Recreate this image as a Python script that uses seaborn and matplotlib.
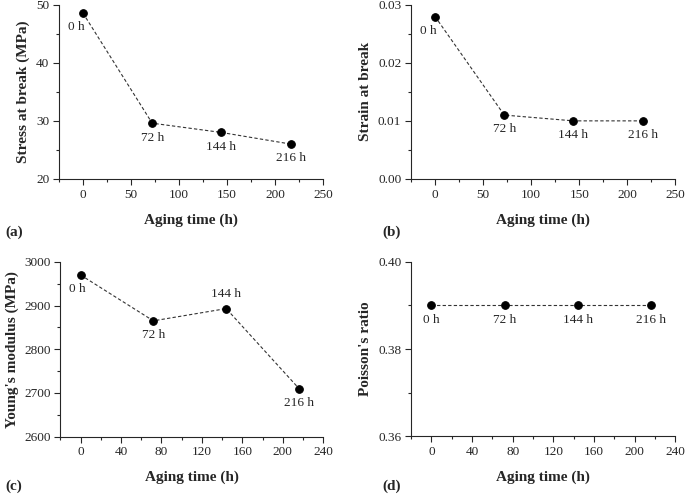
import numpy as np
import pandas as pd
import matplotlib
matplotlib.use('Agg')
import matplotlib.pyplot as plt
from matplotlib.ticker import AutoMinorLocator, MultipleLocator
import seaborn as sns

# values
aging_time = [0, 72, 144, 216]
time_labels = ['0 h', '72 h', '144 h', '216 h']
stress = [48.6, 29.6, 28.0, 26.0]
strain = [0.028, 0.011, 0.010, 0.010]
modulus = [2970, 2865, 2893, 2710]
poisson = [0.39, 0.39, 0.39, 0.39]

sns.set_style('ticks')
plt.rcParams['font.family'] = ['Liberation Serif', 'DejaVu Serif']
plt.rcParams['xtick.direction'] = 'out'
plt.rcParams['ytick.direction'] = 'out'

fig = plt.figure(figsize=(6.85, 4.94), dpi=100)

panels = [
    # rect, y values, ylabel, xlim, xstep, ylim, ystep, yfmt, label offsets, panel tag, tag position
    ([0.086, 0.638, 0.386, 0.352], stress, 'Stress at break (MPa)', (-25, 250), 50, (20, 50), 10, '{:.0f}',
     [(-5, -6), (0, -6), (0, -6), (0, -6)], '(a)', (0.008, 0.530)),
    ([0.600, 0.638, 0.386, 0.352], strain, 'Strain at break', (-25, 250), 50, (0, 0.03), 0.01, '{:.2f}',
     [(-5, -6), (0, -6), (0, -6), (0, -6)], '(b)', (0.558, 0.530)),
    ([0.088, 0.116, 0.384, 0.354], modulus, "Young's modulus (MPa)", (-20, 240), 40, (2600, 3000), 100, '{:.0f}',
     [(-2, -6), (0, -6), (0, 6), (0, -6)], '(c)', (0.008, 0.016)),
    ([0.600, 0.117, 0.386, 0.353], poisson, "Poisson's ratio", (-20, 240), 40, (0.36, 0.40), 0.02, '{:.2f}',
     [(0, -6), (0, -6), (0, -6), (0, -6)], '(d)', (0.558, 0.016)),
]

for rect, yvals, ylabel, xlim, xstep, ylim, ystep, yfmt, offsets, tag, tagpos in panels:
    ax = fig.add_axes(rect)
    df = pd.DataFrame({'t': aging_time, 'v': yvals})
    sns.lineplot(data=df, x='t', y='v', ax=ax, color='#333333', linestyle=(0, (3, 2)),
                 linewidth=0.8, marker='o', markersize=5.5, markerfacecolor='black',
                 markeredgecolor='black')
    for t, v, lab, (dx, dy) in zip(aging_time, yvals, time_labels, offsets):
        va = 'top' if dy < 0 else 'bottom'
        ax.annotate(lab, (t, v), xytext=(dx, dy), textcoords='offset points',
                    ha='center', va=va, fontsize=9.5)
    ax.set_xlim(*xlim)
    ax.set_ylim(*ylim)
    ax.xaxis.set_major_locator(MultipleLocator(xstep))
    ax.yaxis.set_major_locator(MultipleLocator(ystep))
    ax.xaxis.set_minor_locator(AutoMinorLocator(2))
    ax.yaxis.set_minor_locator(AutoMinorLocator(2))
    ax.set_yticks(np.arange(ylim[0], ylim[1] + ystep / 2, ystep))
    ax.set_yticklabels([yfmt.format(y) for y in np.arange(ylim[0], ylim[1] + ystep / 2, ystep)])
    ax.tick_params(which='major', length=4, width=0.8, labelsize=9.5, pad=3)
    ax.tick_params(which='minor', length=2, width=0.8)
    for s in ['left', 'bottom']:
        ax.spines[s].set_linewidth(0.8)
    sns.despine(ax=ax)
    ax.set_xlabel('Aging time (h)', fontsize=11, fontweight='bold', labelpad=9)
    ax.set_ylabel(ylabel, fontsize=11, fontweight='bold', labelpad=4)
    fig.text(tagpos[0], tagpos[1], tag, fontsize=11, fontweight='bold', ha='left', va='center')

fig.savefig('out.png', dpi=100)
